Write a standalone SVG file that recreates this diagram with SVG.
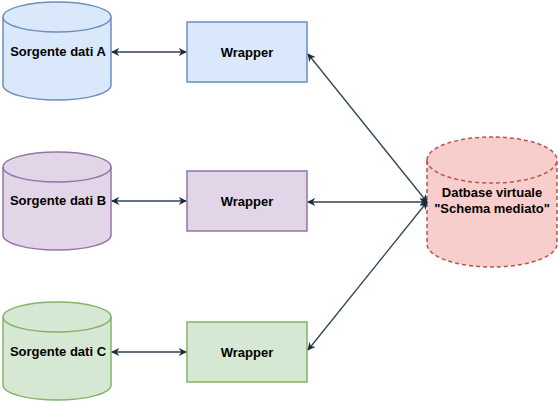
<svg xmlns="http://www.w3.org/2000/svg" width="558" height="403" viewBox="0 0 558 403">
<style>
text{font-family:"Liberation Sans",Arial,sans-serif;font-size:13px;font-weight:bold;fill:#000;text-anchor:middle;dominant-baseline:central}
.a{fill:#dae8fc;stroke:#6c8ebf;stroke-width:1.5}
.b{fill:#e1d5e7;stroke:#9673a6;stroke-width:1.5}
.c{fill:#d5e8d4;stroke:#82b366;stroke-width:1.5}
.d{fill:#f8cecc;stroke:#b85450;stroke-width:1.5;stroke-dasharray:4 3}
.e{fill:none}
.conn{stroke:#314354;stroke-width:1.3;fill:none;marker-start:url(#ah);marker-end:url(#ah)}
</style>
<defs>
<marker id="ah" viewBox="0 0 10 10" refX="9" refY="5" markerWidth="8" markerHeight="8" orient="auto-start-reverse" markerUnits="userSpaceOnUse">
<path d="M0,0 L10,5 L0,10 L3,5 Z" fill="#1a2b3c"/>
</marker>
</defs>
<g id="srcA">
<path class="a" d="M3,17 a54,15 0 0 1 108,0 v68 a54,15 0 0 1 -108,0 Z"/>
<path class="a e" d="M3,17 a54,15 0 0 0 108,0"/>
<text x="58" y="51">Sorgente dati A</text>
</g>
<g id="srcB">
<path class="b" d="M3,167 a54,15 0 0 1 108,0 v68 a54,15 0 0 1 -108,0 Z"/>
<path class="b e" d="M3,167 a54,15 0 0 0 108,0"/>
<text x="58" y="200">Sorgente dati B</text>
</g>
<g id="srcC">
<path class="c" d="M3,317 a54,15 0 0 1 108,0 v68 a54,15 0 0 1 -108,0 Z"/>
<path class="c e" d="M3,317 a54,15 0 0 0 108,0"/>
<text x="58" y="351">Sorgente dati C</text>
</g>
<g id="wrapA">
<rect class="a" x="187" y="22" width="120" height="60"/>
<text x="247" y="52">Wrapper</text>
</g>
<g id="wrapB">
<rect class="b" x="187" y="171" width="120" height="60"/>
<text x="247" y="201">Wrapper</text>
</g>
<g id="wrapC">
<rect class="c" x="187" y="322" width="120" height="60"/>
<text x="247" y="352">Wrapper</text>
</g>
<g id="db">
<path class="d" d="M427,160 a65,23 0 0 1 130,0 v84 a65,23 0 0 1 -130,0 Z"/>
<path class="d e" d="M427,160 a65,23 0 0 0 130,0"/>
<text x="492" y="192">Datbase virtuale</text>
<text x="492" y="208">"Schema mediato"</text>
</g>
<g id="connectors">
<path class="conn" d="M112,52 L186,52"/>
<path class="conn" d="M112,201 L186,201"/>
<path class="conn" d="M112,352 L186,352"/>
<path class="conn" d="M427,202 L308,54"/>
<path class="conn" d="M427,202 L308,202"/>
<path class="conn" d="M427,202 L308,350"/>
</g>
</svg>
